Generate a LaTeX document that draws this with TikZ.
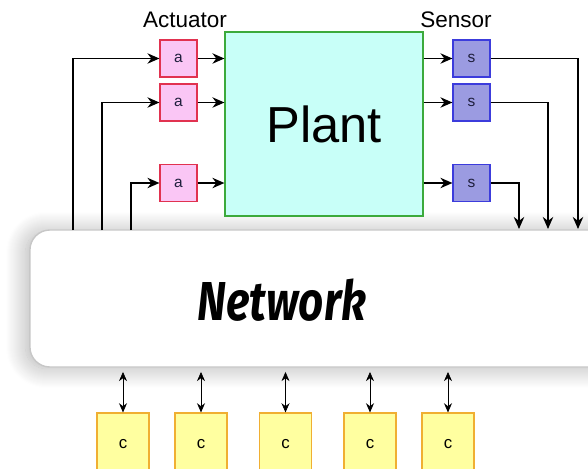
\documentclass[tikz,border=0pt]{standalone}
\usepackage{fontspec}
\setmainfont{Liberation Sans}
\newfontfamily\netfont[FakeStretch=0.8]{Fira Sans}
\usepackage{xcolor}
\usepackage{tikz}
\usetikzlibrary{positioning,arrows.meta,shadows.blur}

\definecolor{actfill}{RGB}{250,198,245}
\definecolor{actline}{RGB}{225,50,80}
\definecolor{senfill}{RGB}{155,155,225}
\definecolor{senline}{RGB}{60,60,220}
\definecolor{plantfill}{RGB}{200,255,248}
\definecolor{plantline}{RGB}{60,170,60}
\definecolor{ctrlfill}{RGB}{255,255,160}
\definecolor{ctrlline}{RGB}{240,175,50}
\definecolor{boxtext}{RGB}{30,30,60}

\begin{document}
\begin{tikzpicture}[x=0.025cm, y=-0.025cm,
  >={Stealth[length=3mm,width=2.6mm]},
  act/.style={draw=actline, fill=actfill, line width=0.8pt, minimum size=0.925cm, inner sep=0pt, text=boxtext, font=\fontsize{11}{12}\selectfont},
  sen/.style={draw=senline, fill=senfill, line width=0.8pt, minimum size=0.925cm, inner sep=0pt, text=boxtext, font=\fontsize{11}{12}\selectfont},
  ctrl/.style={draw=ctrlline, fill=ctrlfill, line width=0.8pt, minimum width=1.3cm, minimum height=1.55cm, inner sep=0pt, font=\fontsize{12}{14}\selectfont},
  link/.style={->, line width=1.2pt},
  duplex/.style={<->, line width=0.5pt, >={Stealth[length=2.3mm,width=2mm]}, shorten >=3pt}]
\useasboundingbox (0,0) rectangle (588,469);
\clip (0,0) rectangle (588,469);

% network
\node[draw=black!22, fill=white, line width=1pt, rounded corners=0.5cm, minimum width=14.75cm, minimum height=3.425cm,
  blur shadow={shadow xshift=-3pt, shadow yshift=-1pt, shadow blur radius=14pt, shadow blur steps=20, shadow opacity=30}] (net) at (325,298.5) {};
\node[font=\netfont\bfseries\itshape\fontsize{39}{42}\selectfont] (netlabel) at (282,300) {Network};

% plant
\node[draw=plantline, fill=plantfill, line width=0.8pt, minimum width=4.95cm, minimum height=4.6cm, font=\fontsize{36}{40}\selectfont] (plant) at (324,124) {Plant};

\node[font=\fontsize{16}{18}\selectfont] (actlabel) at (185,20) {Actuator};
\node[font=\fontsize{16}{18}\selectfont] (senlabel) at (456,20) {Sensor};

\node[act] (a1) at (178.5,58.5) {a};
\node[act] (a2) at (178.5,102.5) {a};
\node[act] (a3) at (178.5,183) {a};
\node[sen] (s1) at (471.5,58.5) {s};
\node[sen] (s2) at (471.5,102.5) {s};
\node[sen] (s3) at (471.5,183) {s};

\coordinate (f1) at (73,230);
\coordinate (f2) at (102,230);
\coordinate (f3) at (131,230);
\coordinate (o1) at (578,229);
\coordinate (o2) at (548,229);
\coordinate (o3) at (519,229);

\draw[link] (f1) |- (a1);
\draw[link] (f2) |- (a2);
\draw[link] (f3) |- (a3);
\draw[link] (a1) -- (a1 -| plant.west);
\draw[link] (a2) -- (a2 -| plant.west);
\draw[link] (a3) -- (a3 -| plant.west);
\draw[link] (s1 -| plant.east) -- (s1);
\draw[link] (s2 -| plant.east) -- (s2);
\draw[link] (s3 -| plant.east) -- (s3);
\draw[link] (s1) -| (o1);
\draw[link] (s2) -| (o2);
\draw[link] (s3) -| (o3);

% controllers
\node[ctrl] (c1) at (123,444) {c};
\node[ctrl] (c2) at (201,444) {c};
\node[ctrl] (c3) at (285.5,444) {c};
\node[ctrl] (c4) at (370,444) {c};
\node[ctrl] (c5) at (448,444) {c};
\draw[duplex] (c1) -- (c1 |- net.south);
\draw[duplex] (c2) -- (c2 |- net.south);
\draw[duplex] (c3) -- (c3 |- net.south);
\draw[duplex] (c4) -- (c4 |- net.south);
\draw[duplex] (c5) -- (c5 |- net.south);
\end{tikzpicture}
\end{document}
